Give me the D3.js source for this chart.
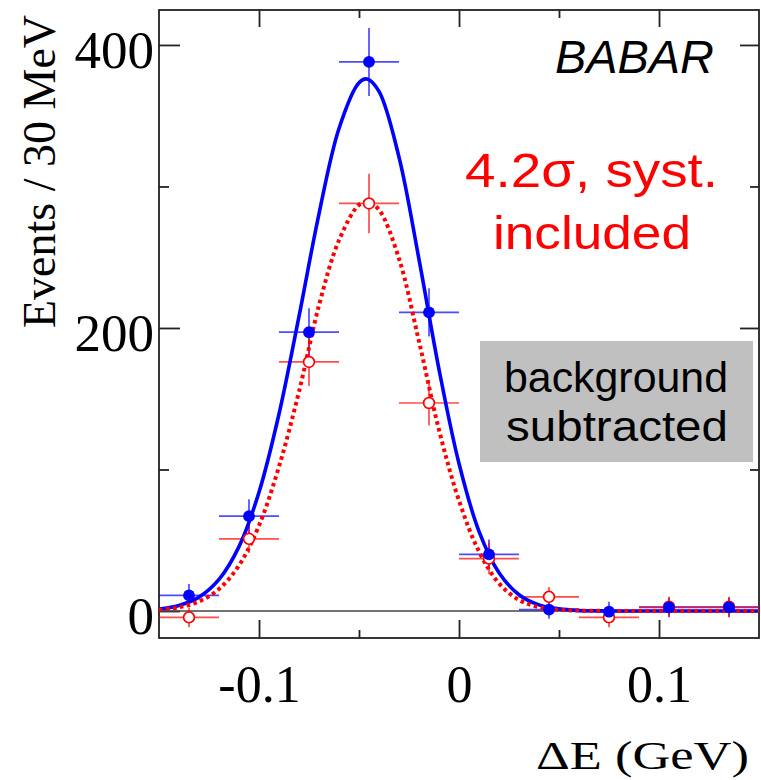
<!DOCTYPE html>
<html>
<head>
<meta charset="utf-8">
<script src="https://cdn.jsdelivr.net/npm/d3@7"></script>
<style>
  html, body { margin: 0; padding: 0; background: #fff; }
  svg { display: block; }
</style>
</head>
<body>
<svg id="chart" width="761" height="780"></svg>
<script>
// ---------------- data ----------------
const binCenters = [-0.135, -0.105, -0.075, -0.045, -0.015, 0.015, 0.045, 0.075, 0.105, 0.135];
const binWidth = 0.03;
const blueValues = [11, 67, 197, 388, 211, 40, 1, -0.5, 2.6, 2.6];
const blueErrors = [8, 12, 17, 24, 17, 10.5, 6.5, 7, 7, 7];
const redValues  = [-4.5, 51, 176, 288, 147, 37, 10, -4.5, 3, 3];
const redErrors  = [7, 10, 17, 21, 16, 11, 7, 7, 7, 7];

const blueCurveX = [-0.15,-0.14,-0.13,-0.12,-0.11,-0.10,-0.09,-0.08,-0.07,-0.06,-0.05,-0.046,-0.04,-0.03,-0.02,-0.01,0.00,0.01,0.02,0.03,0.04,0.05,0.06,0.07,0.08,0.09,0.10,0.11,0.12,0.13,0.14,0.15];
const blueCurveY = [1.4,3.9,9.8,22.3,45.5,83.9,139.2,208.2,280.7,341.0,373.3,376,367.2,320.7,248.5,170.8,104.2,56.3,27.0,11.5,4.3,1.5,0.4,0.1,0,0,0,0,0,0,0,0];
const redCurveX  = [-0.15,-0.14,-0.13,-0.12,-0.11,-0.10,-0.09,-0.08,-0.07,-0.06,-0.05,-0.0455,-0.04,-0.03,-0.02,-0.01,0.00,0.01,0.02,0.03,0.04,0.05,0.06,0.07,0.08,0.09,0.10,0.11,0.12,0.13,0.14,0.15];
const redCurveY  = [0.9,2.6,6.7,15.5,32.2,60.4,102,155,216,262,287,289,283.5,249,190.5,128,78,42,19.5,7.8,2.7,0.9,0.3,0.1,0,0,0,0,0,0,0,0];

const xMajorTicks = [-0.1, 0, 0.1];
const xMajorLabels = ["-0.1", "0", "0.1"];
const xMinorTicks = [-0.05, 0.05];
const yMajorTicks = [0, 200, 400];
const yMajorLabels = ["0", "200", "400"];
const yMinorTicks = [100, 300];

const xDomain = [-0.15, 0.15];
const yDomain = [-19.08, 424.7];

const yTitle = "Events / 30 MeV";
const xTitle = "\u0394E (GeV)";
const expLabel = "BABAR";
const sigLines = ["4.2\u03C3, syst.", "included"];
const boxLines = ["background", "subtracted"];

// ---------------- layout ----------------
const L = 159, R = 759, T = 10, B = 638;
const svg = d3.select("#chart");
const x = d3.scaleLinear().domain(xDomain).range([L, R]);
const y = d3.scaleLinear().domain(yDomain).range([B, T]);

const serif = "'Liberation Serif', 'Times New Roman', serif";
const sans = "'Liberation Sans', Arial, sans-serif";
const axisColor = "#222";

svg.append("rect").attr("width", 761).attr("height", 780).attr("fill", "#fff");

// gray box
svg.append("rect").attr("x", 480).attr("y", 341).attr("width", 273).attr("height", 121).attr("fill", "#c0c0c0");

// axes (ticks inward)
function styleAxis(g) {
  g.select(".domain").remove();
  g.selectAll(".tick line").attr("stroke", axisColor).attr("stroke-width", 1.8);
}
const bottomMajor = svg.append("g").attr("transform", `translate(0,${B})`)
  .call(d3.axisBottom(x).tickValues(xMajorTicks).tickSizeInner(-18).tickSizeOuter(0).tickPadding(27)
    .tickFormat((d, i) => xMajorLabels[i]));
styleAxis(bottomMajor);
bottomMajor.selectAll("text").attr("font-family", serif).attr("font-size", 52).attr("fill", "#000");
const bottomMinor = svg.append("g").attr("transform", `translate(0,${B})`)
  .call(d3.axisBottom(x).tickValues(xMinorTicks).tickSizeInner(-8).tickSizeOuter(0).tickFormat(""));
styleAxis(bottomMinor);

const topMajor = svg.append("g").attr("transform", `translate(0,${T})`)
  .call(d3.axisTop(x).tickValues(xMajorTicks).tickSizeInner(-17).tickSizeOuter(0).tickFormat(""));
styleAxis(topMajor);
const topMinor = svg.append("g").attr("transform", `translate(0,${T})`)
  .call(d3.axisTop(x).tickValues(xMinorTicks).tickSizeInner(-8).tickSizeOuter(0).tickFormat(""));
styleAxis(topMinor);

const leftMajor = svg.append("g").attr("transform", `translate(${L},0)`)
  .call(d3.axisLeft(y).tickValues(yMajorTicks).tickSizeInner(-21).tickSizeOuter(0).tickPadding(5)
    .tickFormat((d, i) => yMajorLabels[i]));
styleAxis(leftMajor);
leftMajor.selectAll("text").attr("font-family", serif).attr("font-size", 53).attr("fill", "#000").attr("dy", "0.42em");
const leftMinor = svg.append("g").attr("transform", `translate(${L},0)`)
  .call(d3.axisLeft(y).tickValues(yMinorTicks).tickSizeInner(-10).tickSizeOuter(0).tickFormat(""));
styleAxis(leftMinor);

const rightMajor = svg.append("g").attr("transform", `translate(${R},0)`)
  .call(d3.axisRight(y).tickValues(yMajorTicks).tickSizeInner(-19).tickSizeOuter(0).tickFormat(""));
styleAxis(rightMajor);
const rightMinor = svg.append("g").attr("transform", `translate(${R},0)`)
  .call(d3.axisRight(y).tickValues(yMinorTicks).tickSizeInner(-9).tickSizeOuter(0).tickFormat(""));
styleAxis(rightMinor);

// frame
svg.append("rect").attr("x", L).attr("y", T).attr("width", R - L).attr("height", B - T)
  .attr("fill", "none").attr("stroke", axisColor).attr("stroke-width", 1.8);

// zero line
svg.append("line").attr("x1", L).attr("x2", R).attr("y1", y(0)).attr("y2", y(0))
  .attr("stroke", "#444").attr("stroke-width", 1.5);

// error bars
function errorBars(vals, errs, color) {
  const g = svg.append("g").attr("stroke", color).attr("stroke-width", 1.7).attr("stroke-opacity", 0.7);
  binCenters.forEach((c, i) => {
    g.append("line").attr("x1", x(c - binWidth / 2)).attr("x2", x(c + binWidth / 2))
      .attr("y1", y(vals[i])).attr("y2", y(vals[i]));
    g.append("line").attr("x1", x(c)).attr("x2", x(c))
      .attr("y1", y(vals[i] - errs[i])).attr("y2", y(vals[i] + errs[i]));
  });
}
errorBars(blueValues, blueErrors, "#0000ff");
errorBars(redValues, redErrors, "#ff0000");

// curves
const line = d3.line().x(d => x(d[0])).y(d => y(d[1])).curve(d3.curveCatmullRom.alpha(0.5));
svg.append("path").datum(blueCurveX.map((v, i) => [v, blueCurveY[i]]))
  .attr("d", line).attr("fill", "none").attr("stroke", "#0000ff").attr("stroke-width", 3.6);
svg.append("path").datum(redCurveX.map((v, i) => [v, redCurveY[i]]))
  .attr("d", line).attr("fill", "none").attr("stroke", "#ff0000").attr("stroke-width", 4)
  .attr("stroke-dasharray", "3.6,3.4");

// markers
svg.append("g").selectAll("circle").data(binCenters).join("circle")
  .attr("cx", d => x(d)).attr("cy", (d, i) => y(redValues[i])).attr("r", 5.4)
  .attr("fill", "#fff").attr("stroke", "#ff0000").attr("stroke-width", 1.7);
svg.append("g").selectAll("circle").data(binCenters).join("circle")
  .attr("cx", d => x(d)).attr("cy", (d, i) => y(blueValues[i])).attr("r", 5.9)
  .attr("fill", "#0000ff");

// titles
svg.append("text").attr("transform", "translate(55,171.5) rotate(-90)")
  .attr("text-anchor", "middle").attr("font-family", serif).attr("font-size", 46).attr("fill", "#000")
  .text(yTitle);
svg.append("text").attr("x", 536).attr("y", 769)
  .attr("font-family", serif).attr("font-size", 40).attr("fill", "#000")
  .attr("textLength", 213).attr("lengthAdjust", "spacingAndGlyphs")
  .text(xTitle);

// annotations
svg.append("text").attr("x", 555).attr("y", 72.7)
  .attr("font-family", sans).attr("font-style", "italic").attr("font-size", 46).attr("fill", "#000")
  .attr("textLength", 159).attr("lengthAdjust", "spacingAndGlyphs")
  .text(expLabel);
svg.append("text").attr("x", 465).attr("y", 187)
  .attr("font-family", sans).attr("font-size", 49).attr("fill", "#ff0000")
  .attr("textLength", 253).attr("lengthAdjust", "spacingAndGlyphs")
  .text(sigLines[0]);
svg.append("text").attr("x", 493).attr("y", 248.5)
  .attr("font-family", sans).attr("font-size", 47).attr("fill", "#ff0000")
  .attr("textLength", 198).attr("lengthAdjust", "spacingAndGlyphs")
  .text(sigLines[1]);
svg.append("text").attr("x", 504).attr("y", 392)
  .attr("font-family", sans).attr("font-size", 42).attr("fill", "#000")
  .attr("textLength", 224).attr("lengthAdjust", "spacingAndGlyphs")
  .text(boxLines[0]);
svg.append("text").attr("x", 506).attr("y", 440.5)
  .attr("font-family", sans).attr("font-size", 42).attr("fill", "#000")
  .attr("textLength", 222).attr("lengthAdjust", "spacingAndGlyphs")
  .text(boxLines[1]);
</script>
</body>
</html>
